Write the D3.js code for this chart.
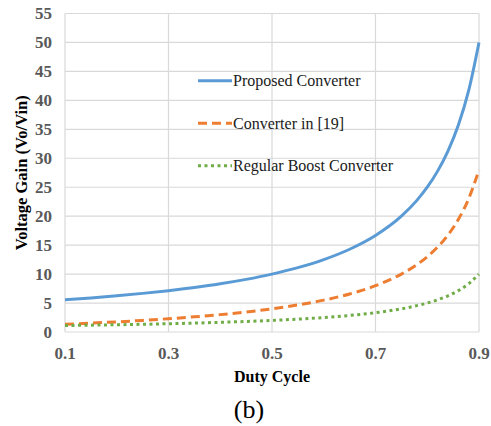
<!DOCTYPE html>
<html>
<head>
<meta charset="utf-8">
<script src="https://cdn.jsdelivr.net/npm/d3@7"></script>
<style>
  body { margin: 0; background: #fff; }
  text { font-family: 'Liberation Serif', 'DejaVu Serif', serif; }
</style>
</head>
<body>
<script>
// duty cycle samples (x axis)
var duty = [0.10, 0.15, 0.20, 0.25, 0.30, 0.35, 0.40, 0.45, 0.50, 0.55, 0.60,
            0.65, 0.70, 0.75, 0.78, 0.80, 0.82, 0.84, 0.86, 0.88, 0.90];

// gains
var proposed = [5.56, 5.88, 6.25, 6.67, 7.14, 7.69, 8.33, 9.09, 10.0, 11.11, 12.5,
                14.29, 16.67, 20.0, 22.73, 25.0, 27.78, 31.25, 35.71, 41.67, 50.0];
var conv19 = [1.33, 1.53, 1.75, 2.0, 2.29, 2.62, 3.0, 3.45, 4.0, 4.67, 5.5,
              6.57, 8.0, 10.0, 11.64, 13.0, 14.67, 16.75, 19.43, 23.0, 28.0];
var boost = [1.11, 1.18, 1.25, 1.33, 1.43, 1.54, 1.67, 1.82, 2.0, 2.22, 2.5,
             2.86, 3.33, 4.0, 4.55, 5.0, 5.56, 6.25, 7.14, 8.33, 10.0];

var xTicks = [0.1, 0.3, 0.5, 0.7, 0.9];
var yTicks = [0, 5, 10, 15, 20, 25, 30, 35, 40, 45, 50, 55];

var seriesNames = ["Proposed Converter", "Converter in [19]", "Regular Boost Converter"];
var seriesColors = ["#5b9bd5", "#ed7d31", "#70ad47"];
var seriesDash = [null, "9,5", "3,3.5"];

var W = 491, H = 426;
var margin = {top: 13.5, right: 12, bottom: 94, left: 65};
var width = W - margin.left - margin.right,
    height = H - margin.top - margin.bottom;
var serif = "'Liberation Serif', 'DejaVu Serif', serif";

var svg = d3.select("body").append("svg")
    .attr("width", W)
    .attr("height", H)
    .attr("font-family", serif);

var g = svg.append("g")
    .attr("transform", "translate(" + margin.left + "," + margin.top + ")");

var x = d3.scaleLinear().domain([0.1, 0.9]).range([0, width]);
var y = d3.scaleLinear().domain([0, 55]).range([height, 0]);

//gridlines
g.selectAll(".hgrid").data(yTicks).enter().append("line")
    .attr("x1", 0).attr("x2", width)
    .attr("y1", function(d) { return y(d); })
    .attr("y2", function(d) { return y(d); })
    .attr("stroke", "#d9d9d9").attr("stroke-width", 1.2);

g.selectAll(".vgrid").data(xTicks).enter().append("line")
    .attr("y1", 0).attr("y2", height)
    .attr("x1", function(d) { return x(d); })
    .attr("x2", function(d) { return x(d); })
    .attr("stroke", "#d9d9d9").attr("stroke-width", 1.2);

//tick labels
g.selectAll(".ylab").data(yTicks).enter().append("text")
    .attr("x", -13)
    .attr("y", function(d) { return y(d); })
    .attr("dy", "0.35em")
    .attr("text-anchor", "end")
    .attr("font-size", 17).attr("font-weight", "bold")
    .attr("fill", "#595959")
    .text(function(d) { return d; });

g.selectAll(".xlab").data(xTicks).enter().append("text")
    .attr("x", function(d) { return x(d); })
    .attr("y", height + 21)
    .attr("dy", "0.35em")
    .attr("text-anchor", "middle")
    .attr("font-size", 17).attr("font-weight", "bold")
    .attr("fill", "#595959")
    .text(function(d) { return d3.format(".1f")(d); });

//axis titles
svg.append("text")
    .attr("x", margin.left + width / 2)
    .attr("y", 376)
    .attr("dy", "0.35em")
    .attr("text-anchor", "middle")
    .attr("font-size", 16).attr("font-weight", "bold")
    .text("Duty Cycle");

svg.append("text")
    .attr("transform", "translate(21," + (margin.top + height / 2) + ") rotate(-90)")
    .attr("dy", "0.35em")
    .attr("text-anchor", "middle")
    .attr("font-size", 16.5).attr("font-weight", "bold")
    .text("Voltage Gain (Vo/Vin)");

svg.append("text")
    .attr("x", 249)
    .attr("y", 409)
    .attr("dy", "0.35em")
    .attr("text-anchor", "middle")
    .attr("font-size", 26)
    .text("(b)");

//lines
var allSeries = [proposed, conv19, boost];
var line = d3.line()
    .x(function(d, i) { return x(duty[i]); })
    .y(function(d) { return y(d); })
    .curve(d3.curveMonotoneX);

allSeries.forEach(function(s, k) {
    g.append("path")
        .datum(s)
        .attr("d", line)
        .attr("fill", "none")
        .attr("stroke", seriesColors[k])
        .attr("stroke-width", 3)
        .attr("stroke-dasharray", seriesDash[k]);
});

//legend
var legY = [80.7, 123.3, 165.7];
seriesNames.forEach(function(name, k) {
    svg.append("line")
        .attr("x1", 198).attr("x2", 232)
        .attr("y1", legY[k]).attr("y2", legY[k])
        .attr("stroke", seriesColors[k])
        .attr("stroke-width", 3)
        .attr("stroke-dasharray", seriesDash[k]);
    svg.append("text")
        .attr("x", 233)
        .attr("y", legY[k])
        .attr("dy", "0.35em")
        .attr("font-size", 16)
        .attr("fill", "#1a1a1a")
        .text(name);
});
</script>
</body>
</html>
